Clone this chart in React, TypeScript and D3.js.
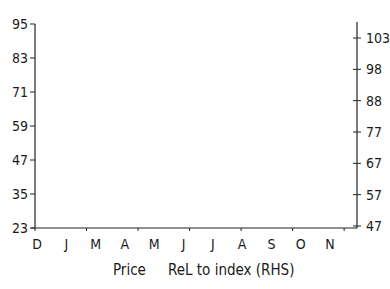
import React from "react";
import * as d3 from "d3";

// chart has no plotted series, only axes
const months = ["D", "J", "M", "A", "M", "J", "J", "A", "S", "O", "N"];
const leftTicks = [23, 35, 47, 59, 71, 83, 95];
const rightTicks = ["47", "57", "67", "77", "88", "98", "103"];
const legendItems = ["Price", "ReL to index (RHS)"];

export default function App() {
  const width = 390;
  const height = 289;
  const left = 35;
  const right = 357;
  const bottom = 228;
  const font = "'DejaVu Sans Condensed', 'Liberation Sans Narrow', 'Liberation Sans', sans-serif";

  const yLeft = d3.scaleLinear().domain([23, 95]).range([bottom, 24]);
  const yRight = d3.scalePoint().domain(rightTicks).range([bottom - 2, 38]);
  const xLabel = d3.scalePoint().domain(d3.range(months.length).map(String)).range([37, 330]);
  const xTick = d3.scaleLinear().domain([0, 6.25]).range([left, right]);

  return (
    <svg width={width} height={height} style={{ position: "absolute", left: 0, top: 0, background: "#fff" }}>
      <g fontFamily={font} fontSize={14} fill="#1a1a1a" fontStretch="condensed">
        {/* left axis */}
        <line x1={left} x2={left} y1={yLeft(95)} y2={bottom} stroke="#222" strokeWidth={1.2} />
        {leftTicks.map((t) => (
          <g key={t}>
            <line x1={left - 5} x2={left} y1={yLeft(t)} y2={yLeft(t)} stroke="#222" />
            <text x={left - 7} y={yLeft(t)} dy="0.35em" textAnchor="end">{t}</text>
          </g>
        ))}
        {/* right axis */}
        <line x1={right} x2={right} y1={22} y2={bottom} stroke="#222" strokeWidth={1.2} />
        {rightTicks.map((t) => (
          <g key={t}>
            <line x1={right - 4} x2={right + 4} y1={yRight(t)} y2={yRight(t)} stroke="#222" />
            <text x={right + 9} y={yRight(t)} dy="0.35em" textAnchor="start">{t}</text>
          </g>
        ))}
        {/* bottom axis */}
        <line x1={left - 4} x2={right} y1={bottom} y2={bottom} stroke="#222" strokeWidth={1.2} />
        {d3.range(7).map((i) => (
          <line key={i} x1={xTick(i)} x2={xTick(i)} y1={bottom} y2={bottom + 3} stroke="#222" />
        ))}
        {months.map((m, i) => (
          <text key={i} x={xLabel(String(i))} y={244} dy="0.35em" textAnchor="middle">{m}</text>
        ))}
        {/* legend */}
        <text x={113} y={270} dy="0.35em" fontSize={15}>{legendItems[0]}</text>
        <text x={168} y={270} dy="0.35em" fontSize={15}>{legendItems[1]}</text>
      </g>
    </svg>
  );
}
